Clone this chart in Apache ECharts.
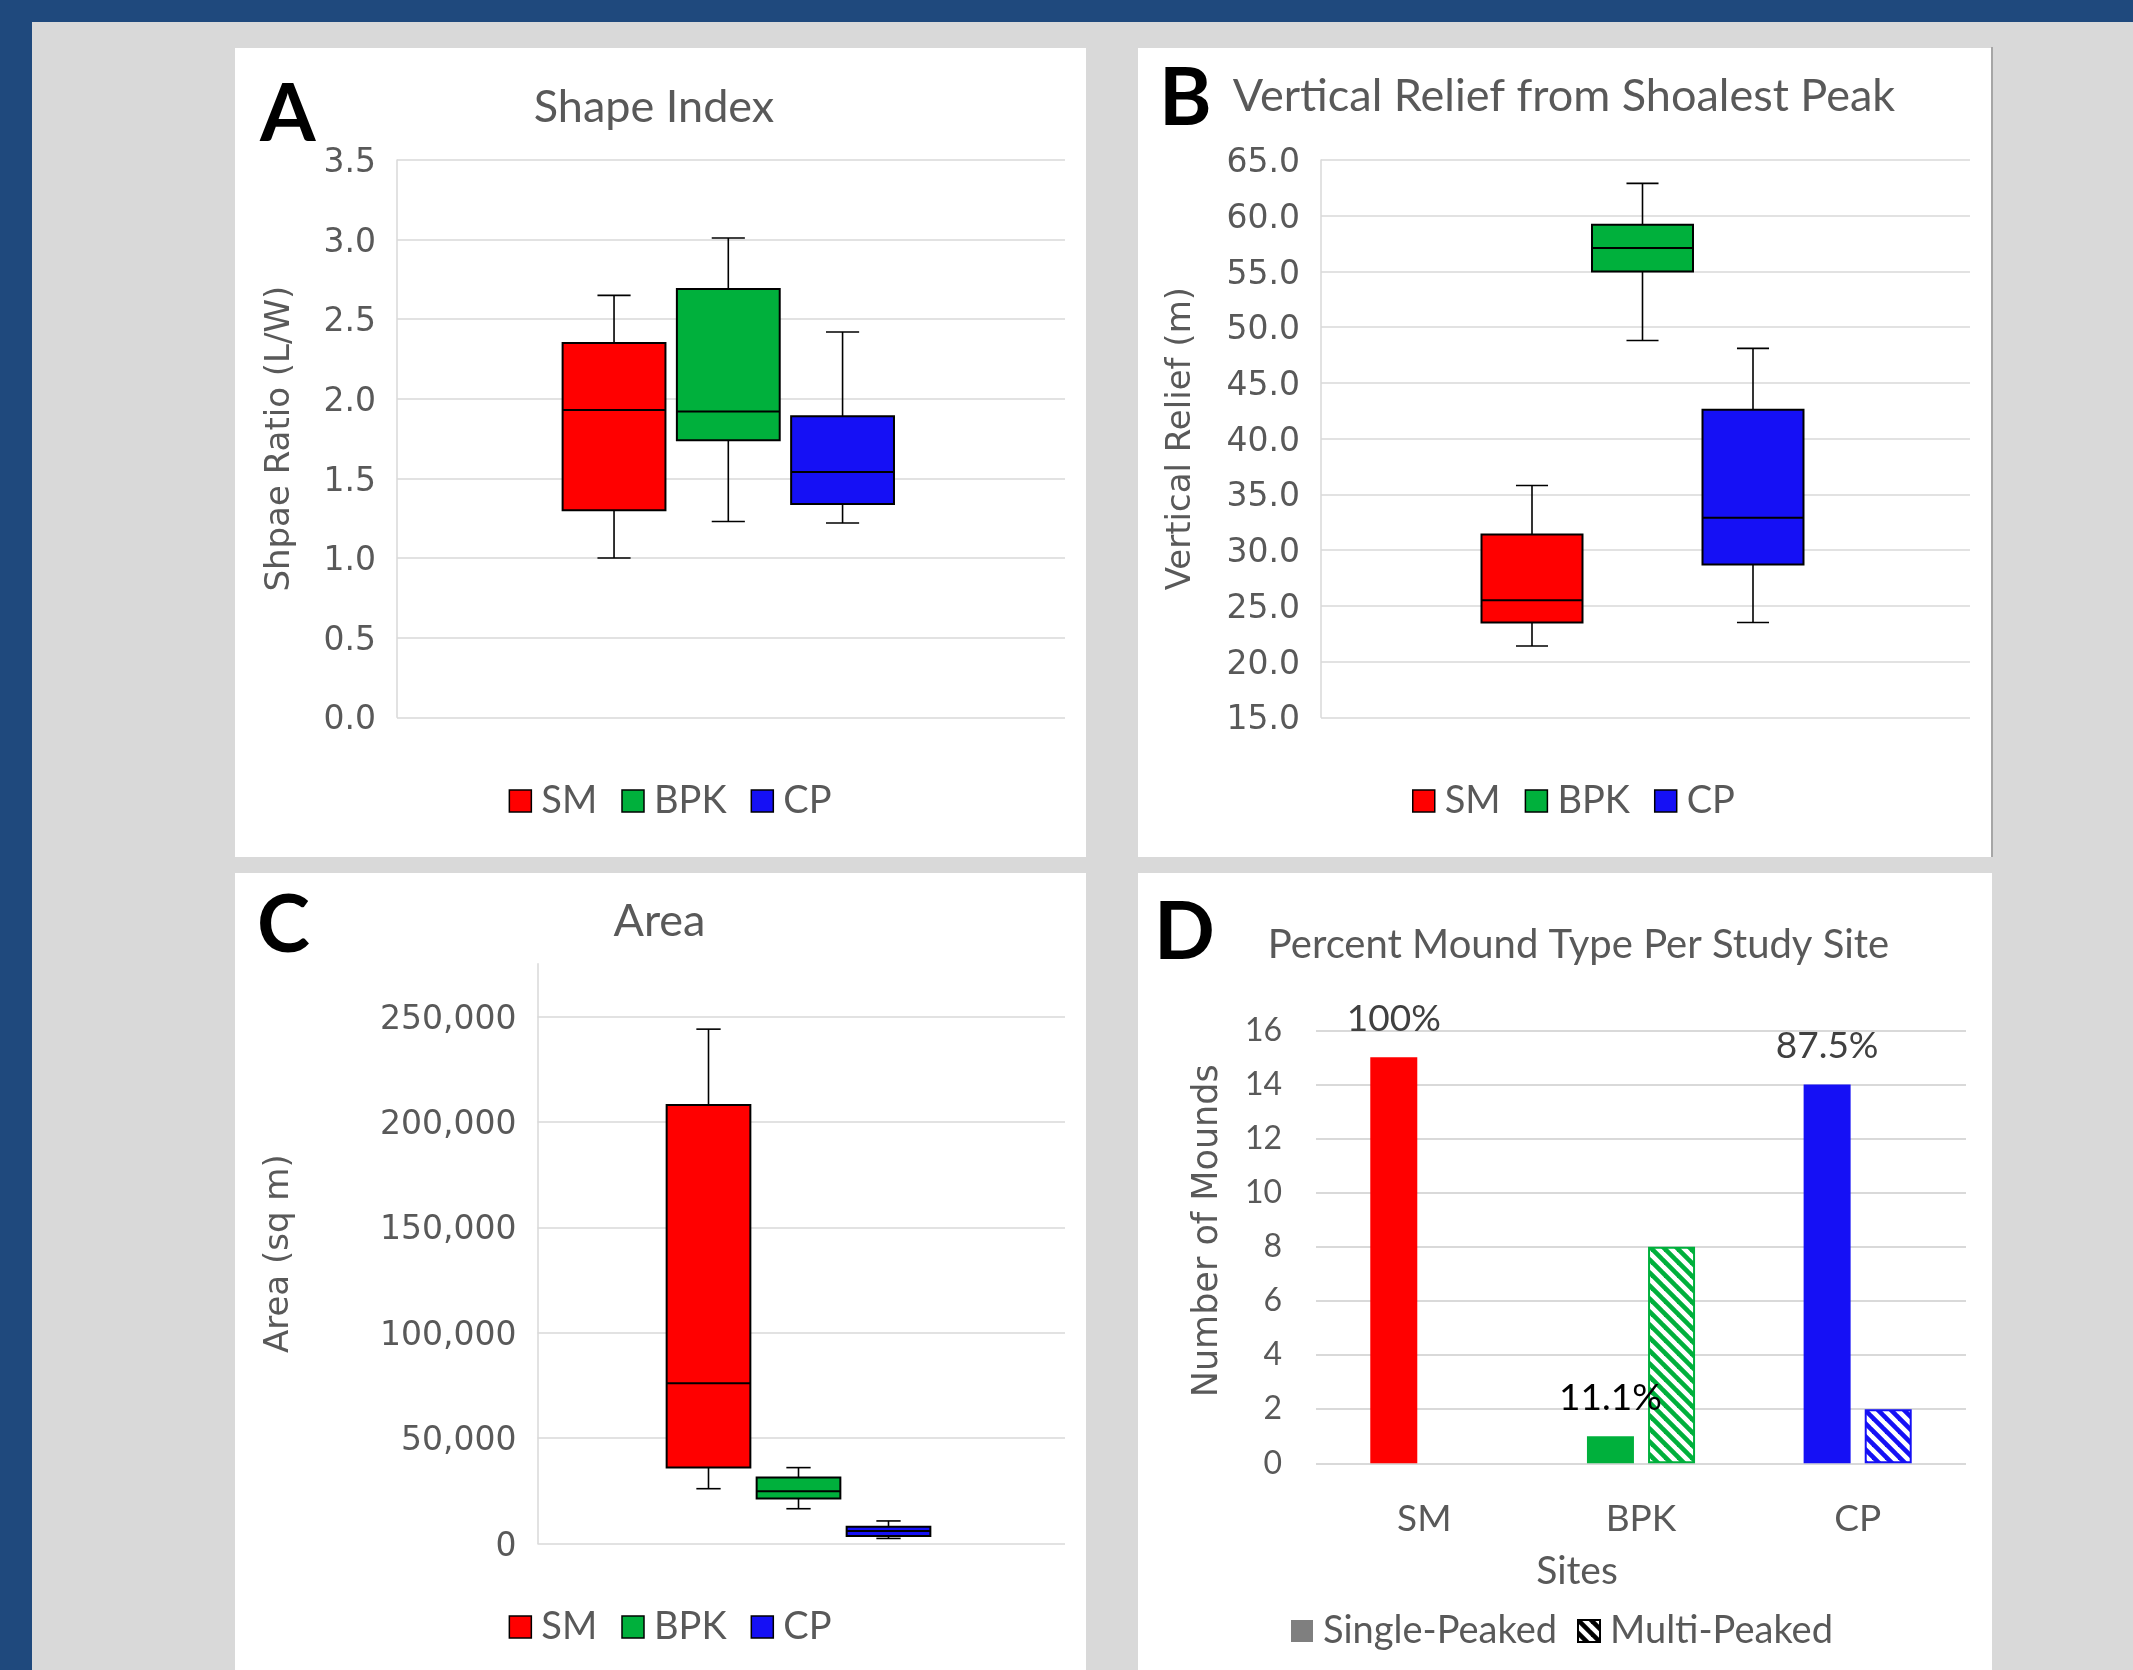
<!DOCTYPE html>
<html>
<head>
<meta charset="utf-8">
<script src="https://cdn.jsdelivr.net/npm/echarts@6.0.0/dist/echarts.min.js"></script>
<style>
html,body{margin:0;padding:0;background:#1F497D;}
#chart{width:2133px;height:1670px;}
</style>
</head>
<body>
<div id="chart"></div>
<script>
// ---------------- data ----------------
const SITES = ['SM', 'BPK', 'CP'];
// box statistics: [lower whisker, Q1, median, Q3, upper whisker]
const SHAPE_SM  = [1.00, 1.30, 1.93, 2.35, 2.65];
const SHAPE_BPK = [1.23, 1.74, 1.92, 2.69, 3.01];
const SHAPE_CP  = [1.22, 1.34, 1.54, 1.89, 2.42];
const RELIEF_SM  = [21.4, 23.5, 25.5, 31.4, 35.8];
const RELIEF_BPK = [48.8, 55.0, 57.1, 59.2, 62.9];
const RELIEF_CP  = [23.5, 28.7, 32.9, 42.6, 48.1];
const AREA_SM  = [26000, 36000, 76000, 208000, 244000];
const AREA_BPK = [16500, 21300, 24800, 31300, 36000];
const AREA_CP  = [2400, 3600, 5900, 7900, 10700];
// mound counts per site
const SINGLE_PEAKED = [15, 1, 14];
const MULTI_PEAKED  = [0, 8, 2];
// axis ranges [min, max, interval]
const SHAPE_AXIS  = [0, 3.5, 0.5];
const RELIEF_AXIS = [15, 65, 5];
const AREA_AXIS   = [0, 250000, 50000];
const COUNT_AXIS  = [0, 16, 2];

// ---------------- styling ----------------
const SITE_COLORS = ['#FF0000', '#00B03C', '#1510F5'];
const LABEL_COLORS = ['#404040', '#000000', '#404040'];
const FONT_C = 'Lato, "Liberation Sans", sans-serif';
const FONT_V = '"DejaVu Sans", Verdana, sans-serif';
const GRAY_TXT = '#595959';
const GRID_LINE = '#D9D9D9';

function hatch(color) {
  const s = 13;
  const c = document.createElement('canvas');
  c.width = s; c.height = s;
  const g = c.getContext('2d');
  g.fillStyle = '#fff';
  g.fillRect(0, 0, s, s);
  g.strokeStyle = color;
  g.lineWidth = 4.6;
  for (let k = -1; k <= 1; k++) {
    g.beginPath();
    g.moveTo(-s, -s + k * s);
    g.lineTo(2 * s, 2 * s + k * s);
    g.stroke();
  }
  return { image: c, repeat: 'repeat' };
}

function pct(i) {
  const p = SINGLE_PEAKED[i] / (SINGLE_PEAKED[i] + MULTI_PEAKED[i]) * 100;
  return (Number.isInteger(p) ? String(p) : p.toFixed(1)) + '%';
}

function boxRenderer(boxFrac, capFrac) {
  return function (params, api) {
    const c = api.value(0);
    const pts = [1, 2, 3, 4, 5].map(k => api.coord([c, api.value(k)]));
    const band = api.size([1, 0])[0];
    const bw = band * boxFrac, cw = band * capFrac;
    const x = pts[0][0];
    const lo = pts[0][1], q1 = pts[1][1], med = pts[2][1], q3 = pts[3][1], hi = pts[4][1];
    const ln = { stroke: '#000', lineWidth: 1.6 };
    return {
      type: 'group',
      children: [
        { type: 'line', shape: { x1: x, y1: hi, x2: x, y2: q3 }, style: ln },
        { type: 'line', shape: { x1: x - cw / 2, y1: hi, x2: x + cw / 2, y2: hi }, style: ln },
        { type: 'line', shape: { x1: x, y1: q1, x2: x, y2: lo }, style: ln },
        { type: 'line', shape: { x1: x - cw / 2, y1: lo, x2: x + cw / 2, y2: lo }, style: ln },
        { type: 'rect', shape: { x: x - bw / 2, y: q3, width: bw, height: q1 - q3 },
          style: { fill: api.visual('color'), stroke: '#000', lineWidth: 2 } },
        { type: 'line', shape: { x1: x - bw / 2, y1: med, x2: x + bw / 2, y2: med },
          style: { stroke: '#000', lineWidth: 2 } }
      ]
    };
  };
}

function boxSeries(statsList, axisIdx, boxFrac, capFrac) {
  return SITES.map((name, i) => ({
    type: 'custom',
    name: name,
    xAxisIndex: axisIdx,
    yAxisIndex: axisIdx,
    itemStyle: { color: SITE_COLORS[i] },
    encode: { x: 0, y: [1, 2, 3, 4, 5] },
    renderItem: boxRenderer(boxFrac, capFrac),
    silent: true,
    data: [[i].concat(statsList[i])]
  }));
}

function grid(left, top, width, height) {
  return { left, top, width, height, containLabel: false, outerBoundsMode: 'none' };
}

function hiddenCat(gridIndex, data) {
  return { gridIndex, type: 'category', data: data, show: false };
}

function hiddenVal(gridIndex, min, max) {
  return { gridIndex, type: 'value', min, max, show: false };
}

function siteLegend(left, top) {
  return {
    left, top, orient: 'horizontal', icon: 'rect',
    itemWidth: 22, itemHeight: 22, itemGap: 24, padding: 0,
    selectedMode: false,
    data: SITES.map((n, i) => ({ name: n, itemStyle: { color: SITE_COLORS[i], borderColor: '#000', borderWidth: 1.5 } })),
    textStyle: { fontFamily: FONT_C, fontSize: 38, color: GRAY_TXT, padding: [0, 0, 0, 5] }
  };
}

function titleAt(text, x, y, size) {
  return {
    text, left: x, top: y, textAlign: 'center', textVerticalAlign: 'middle', padding: 0,
    textStyle: { fontFamily: FONT_C, fontSize: size, fontWeight: 'normal', color: GRAY_TXT }
  };
}

function letter(t, x, y) {
  return {
    type: 'text', x: x, y: y, z: 5, silent: true,
    style: { text: t, font: 'bold 80px Lato', fontFamily: 'Lato', fontSize: 80, fontWeight: 'bold',
             fill: '#000', textAlign: 'left', textVerticalAlign: 'middle', align: 'left', verticalAlign: 'middle' }
  };
}

function panel(x, y, w, h) {
  return { type: 'rect', z: -10, silent: true, shape: { x, y, width: w, height: h }, style: { fill: '#FFFFFF' } };
}

// tick labels sit slightly below their grid lines in the reference
const tickText = { fontFamily: FONT_V, fontSize: 33, color: GRAY_TXT, margin: 21, verticalAlign: 'top', lineHeight: 7 };
const nameText = { fontFamily: FONT_V, fontSize: 34, color: GRAY_TXT };

const option = {
  animation: false,
  backgroundColor: '#1F497D',
  graphic: {
    elements: [
      { type: 'rect', z: -20, silent: true, shape: { x: 32, y: 22, width: 2101, height: 1648 }, style: { fill: '#D9D9D9' } },
      panel(235, 48, 851, 809),
      panel(1138, 48, 854, 809),
      panel(235, 873, 851, 797),
      panel(1138, 873, 854, 797),
      { type: 'line', z: -9, silent: true, shape: { x1: 1992, y1: 47, x2: 1992, y2: 857 }, style: { stroke: '#A6A6A6', lineWidth: 2 } },
      letter('A', 260, 115.5),
      letter('B', 1159, 99.5),
      letter('C', 257, 926.5),
      letter('D', 1154, 933.5)
    ]
  },
  title: [
    titleAt('Shape Index', 654, 107.5, 45),
    titleAt('Vertical Relief from Shoalest Peak', 1564, 96.5, 45),
    titleAt('Area', 659.5, 921.5, 45),
    titleAt('Percent Mound Type Per Study Site', 1578.5, 945.5, 40)
  ],
  legend: [
    siteLegend(508.6, 782),
    siteLegend(1412, 782),
    siteLegend(508.6, 1608),
    {
      left: 1291, top: 1612, orient: 'horizontal', icon: 'rect',
      itemWidth: 22, itemHeight: 22, itemGap: 20, padding: 0, selectedMode: false,
      data: [
        { name: 'Single-Peaked', itemStyle: { color: '#7F7F7F', borderWidth: 0 } },
        { name: 'Multi-Peaked', itemStyle: { color: hatch('#000'), borderColor: '#000', borderWidth: 2 } }
      ],
      textStyle: { fontFamily: FONT_C, fontSize: 38, color: GRAY_TXT, padding: [0, 0, 0, 5] }
    }
  ],
  grid: [
    grid(397, 160, 668, 557.3),      // 0 A axes
    grid(556.9, 160, 342.8, 557.3),  // 1 A boxes
    grid(1321, 160, 649, 557.3),     // 2 B axes
    grid(1476.75, 160, 331.5, 557.3),// 3 B boxes
    grid(537.5, 1016.5, 527.5, 527), // 4 C labels/gridlines
    grid(663.5, 1016.5, 270, 527),   // 5 C boxes
    grid(537.5, 963.8, 527.5, 579.7),// 6 C axis line
    grid(1316, 1030.3, 650, 433)     // 7 D bars
  ],
  xAxis: [
    hiddenCat(0, ['']),
    hiddenCat(1, SITES),
    hiddenCat(2, ['']),
    hiddenCat(3, SITES),
    hiddenCat(4, ['']),
    hiddenCat(5, SITES),
    hiddenCat(6, ['']),
    {
      gridIndex: 7, type: 'category', data: SITES,
      axisLine: { show: false }, axisTick: { show: false },
      axisLabel: { fontFamily: FONT_C, fontSize: 37, color: GRAY_TXT, margin: 37 },
      name: 'Sites', nameLocation: 'middle', nameGap: 89,
      nameTextStyle: { fontFamily: FONT_C, fontSize: 39, color: GRAY_TXT, padding: [0, 128, 0, 0] }
    }
  ],
  yAxis: [
    {
      gridIndex: 0, type: 'value', min: SHAPE_AXIS[0], max: SHAPE_AXIS[1], interval: SHAPE_AXIS[2],
      axisLine: { show: true, lineStyle: { color: GRID_LINE, width: 1.5 } },
      axisTick: { show: false },
      splitLine: { show: true, lineStyle: { color: GRID_LINE, width: 1.5 } },
      axisLabel: Object.assign({}, tickText, { formatter: v => v.toFixed(1) }),
      name: 'Shpae Ratio (L/W)', nameLocation: 'middle', nameGap: 100, nameTextStyle: nameText
    },
    hiddenVal(1, SHAPE_AXIS[0], SHAPE_AXIS[1]),
    {
      gridIndex: 2, type: 'value', min: RELIEF_AXIS[0], max: RELIEF_AXIS[1], interval: RELIEF_AXIS[2],
      axisLine: { show: true, lineStyle: { color: GRID_LINE, width: 1.5 } },
      axisTick: { show: false },
      splitLine: { show: true, lineStyle: { color: GRID_LINE, width: 1.5 } },
      axisLabel: Object.assign({}, tickText, { formatter: v => v.toFixed(1) }),
      name: 'Vertical Relief (m)', nameLocation: 'middle', nameGap: 123, nameTextStyle: nameText
    },
    hiddenVal(3, RELIEF_AXIS[0], RELIEF_AXIS[1]),
    {
      gridIndex: 4, type: 'value', min: AREA_AXIS[0], max: AREA_AXIS[1], interval: AREA_AXIS[2],
      axisLine: { show: false },
      axisTick: { show: false },
      splitLine: { show: true, lineStyle: { color: GRID_LINE, width: 1.5 } },
      axisLabel: Object.assign({}, tickText, { formatter: v => v.toLocaleString('en-US') })
    },
    hiddenVal(5, AREA_AXIS[0], AREA_AXIS[1]),
    {
      gridIndex: 6, type: 'value', min: AREA_AXIS[0], max: AREA_AXIS[1] * 1.1,
      axisLine: { show: true, lineStyle: { color: GRID_LINE, width: 1.5 } },
      axisTick: { show: false }, axisLabel: { show: false }, splitLine: { show: false },
      name: 'Area (sq m)', nameLocation: 'middle', nameGap: 241, nameTextStyle: nameText
    },
    {
      gridIndex: 7, type: 'value', min: COUNT_AXIS[0], max: COUNT_AXIS[1], interval: COUNT_AXIS[2],
      axisLine: { show: false }, axisTick: { show: false },
      splitLine: { show: true, lineStyle: { color: GRID_LINE, width: 2 } },
      axisLabel: { fontFamily: FONT_C, fontSize: 32, color: GRAY_TXT, margin: 34 },
      name: 'Number of Mounds', nameLocation: 'middle', nameGap: 91,
      nameTextStyle: { fontFamily: FONT_V, fontSize: 35, color: GRAY_TXT, padding: [0, 0, 0, 32] }
    }
  ],
  series: [].concat(
    boxSeries([SHAPE_SM, SHAPE_BPK, SHAPE_CP], 1, 0.90, 0.29),
    boxSeries([RELIEF_SM, RELIEF_BPK, RELIEF_CP], 3, 0.914, 0.29),
    boxSeries([AREA_SM, AREA_BPK, AREA_CP], 5, 0.93, 0.27),
    [
      {
        type: 'bar', name: 'Single-Peaked', xAxisIndex: 7, yAxisIndex: 7,
        barWidth: 47, barGap: '30%',
        itemStyle: { color: '#7F7F7F' },
        label: {
          show: true, position: 'top', distance: 20,
          fontFamily: FONT_C, fontSize: 37, color: '#404040',
          formatter: p => pct(p.dataIndex)
        },
        data: SINGLE_PEAKED.map((v, i) => ({
          value: v, itemStyle: { color: SITE_COLORS[i] }, label: { color: LABEL_COLORS[i] }
        }))
      },
      {
        type: 'bar', name: 'Multi-Peaked', xAxisIndex: 7, yAxisIndex: 7,
        barWidth: 47, barGap: '30%',
        itemStyle: { color: hatch('#000') },
        data: MULTI_PEAKED.map((v, i) => ({
          value: v,
          itemStyle: { color: hatch(SITE_COLORS[i]), borderColor: SITE_COLORS[i], borderWidth: v ? 2 : 0 }
        }))
      }
    ]
  )
};

const chart = echarts.init(document.getElementById('chart'), null, { renderer: 'canvas', width: 2133, height: 1670 });
chart.setOption(option);
</script>
</body>
</html>
